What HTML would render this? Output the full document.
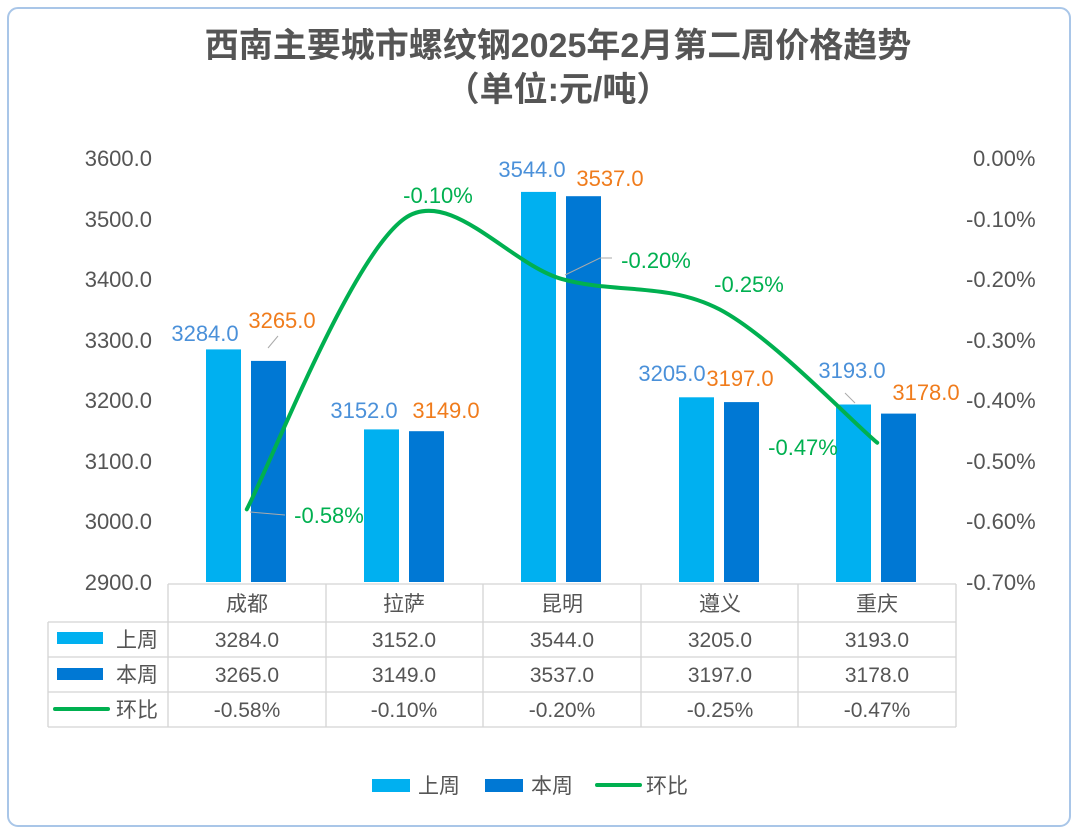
<!DOCTYPE html>
<html><head><meta charset="utf-8"><style>
body{margin:0;background:#fff;}
svg{display:block;font-family:"Liberation Sans","Noto Sans CJK SC",sans-serif;}
</style></head><body>
<svg width="1080" height="834" viewBox="0 0 1080 834">
<rect x="8" y="8" width="1062" height="818" rx="10" fill="#fff" stroke="#a9c6e8" stroke-width="2"/>
<text x="558" y="57" text-anchor="middle" font-size="34" font-weight="bold" fill="#555">西南主要城市螺纹钢2025年2月第二周价格趋势</text>
<text x="558" y="101" text-anchor="middle" font-size="34" font-weight="bold" fill="#555">（单位:元/吨）</text>
<g font-size="22" fill="#555" text-anchor="end">
<text x="152" y="166">3600.0</text><text x="152" y="227">3500.0</text><text x="152" y="287">3400.0</text><text x="152" y="348">3300.0</text><text x="152" y="408">3200.0</text><text x="152" y="469">3100.0</text><text x="152" y="529">3000.0</text><text x="152" y="590">2900.0</text>
</g>
<g font-size="22" fill="#555">
<text x="973" y="166">0.00%</text><text x="966" y="227">-0.10%</text><text x="966" y="287">-0.20%</text><text x="966" y="348">-0.30%</text><text x="966" y="408">-0.40%</text><text x="966" y="469">-0.50%</text><text x="966" y="529">-0.60%</text><text x="966" y="590">-0.70%</text>
</g>
<g fill="#00b0f0">
<rect x="206" y="349.4" width="35" height="232.6"/><rect x="364" y="429.4" width="35" height="152.6"/><rect x="521" y="191.9" width="35" height="390.1"/><rect x="679" y="397.3" width="35" height="184.7"/><rect x="836" y="404.5" width="35" height="177.5"/>
</g>
<g fill="#0078d4">
<rect x="251" y="360.9" width="35" height="221.1"/><rect x="409" y="431.2" width="35" height="150.8"/><rect x="566" y="196.2" width="35" height="385.8"/><rect x="724" y="402.1" width="35" height="179.9"/><rect x="881" y="413.6" width="35" height="168.4"/>
</g>
<g font-size="22" text-anchor="middle">
<g fill="#4a90d9"><text x="205" y="341">3284.0</text><text x="364" y="418">3152.0</text><text x="532" y="177">3544.0</text><text x="672" y="381">3205.0</text><text x="852" y="378">3193.0</text></g>
<g fill="#f07c1c"><text x="282" y="328">3265.0</text><text x="446" y="418">3149.0</text><text x="610" y="186">3537.0</text><text x="740" y="386">3197.0</text><text x="926" y="400">3178.0</text></g>
<g fill="#00b050"><text x="329" y="523">-0.58%</text><text x="438" y="203">-0.10%</text><text x="656" y="268">-0.20%</text><text x="749" y="292">-0.25%</text><text x="803" y="455">-0.47%</text></g>
</g>
<g stroke="#aaa" stroke-width="1" fill="none">
<path d="M250 512 L285 515"/><path d="M565 275 L600 258 L612 258"/><path d="M268 348 L278 336"/><path d="M845 393 L855 403"/>
</g>
<path d="M246.8 509.3 C272 461 351 257 404.4 218.6 C450 186 509 264 562 279.1 C615 294 667 282 719.6 309.4 C772 337 851 421 877.2 442.7" fill="none" stroke="#00b050" stroke-width="4" stroke-linecap="round"/>
<g stroke="#d4d4d4" stroke-width="1.3" fill="none">
<path d="M168 584 H956 M48 622 H956 M48 657 H956 M48 692 H956 M48 727 H956"/>
<path d="M168 584 V727 M326 584 V727 M483 584 V727 M641 584 V727 M798 584 V727 M956 584 V727 M48 622 V727"/>
</g>
<g font-size="21" fill="#555" text-anchor="middle">
<text x="247" y="611">成都</text><text x="404" y="611">拉萨</text><text x="562" y="611">昆明</text><text x="720" y="611">遵义</text><text x="877" y="611">重庆</text>
<text x="247" y="647">3284.0</text><text x="404" y="647">3152.0</text><text x="562" y="647">3544.0</text><text x="720" y="647">3205.0</text><text x="877" y="647">3193.0</text>
<text x="247" y="682">3265.0</text><text x="404" y="682">3149.0</text><text x="562" y="682">3537.0</text><text x="720" y="682">3197.0</text><text x="877" y="682">3178.0</text>
<text x="247" y="717">-0.58%</text><text x="404" y="717">-0.10%</text><text x="562" y="717">-0.20%</text><text x="720" y="717">-0.25%</text><text x="877" y="717">-0.47%</text>
</g>
<rect x="57" y="632" width="46" height="12" fill="#00b0f0"/>
<rect x="57" y="668" width="46" height="12" fill="#0078d4"/>
<path d="M55 709 H108" stroke="#00b050" stroke-width="4" stroke-linecap="round"/>
<g font-size="21" fill="#555"><text x="116" y="647">上周</text><text x="116" y="682">本周</text><text x="116" y="717">环比</text></g>
<rect x="372" y="779" width="38" height="13" fill="#00b0f0"/>
<text x="418" y="793" font-size="21" fill="#555">上周</text>
<rect x="485" y="779" width="38" height="13" fill="#0078d4"/>
<text x="531" y="793" font-size="21" fill="#555">本周</text>
<path d="M597 785 H640" stroke="#00b050" stroke-width="4" stroke-linecap="round"/>
<text x="646" y="793" font-size="21" fill="#555">环比</text>
</svg>
</body></html>
